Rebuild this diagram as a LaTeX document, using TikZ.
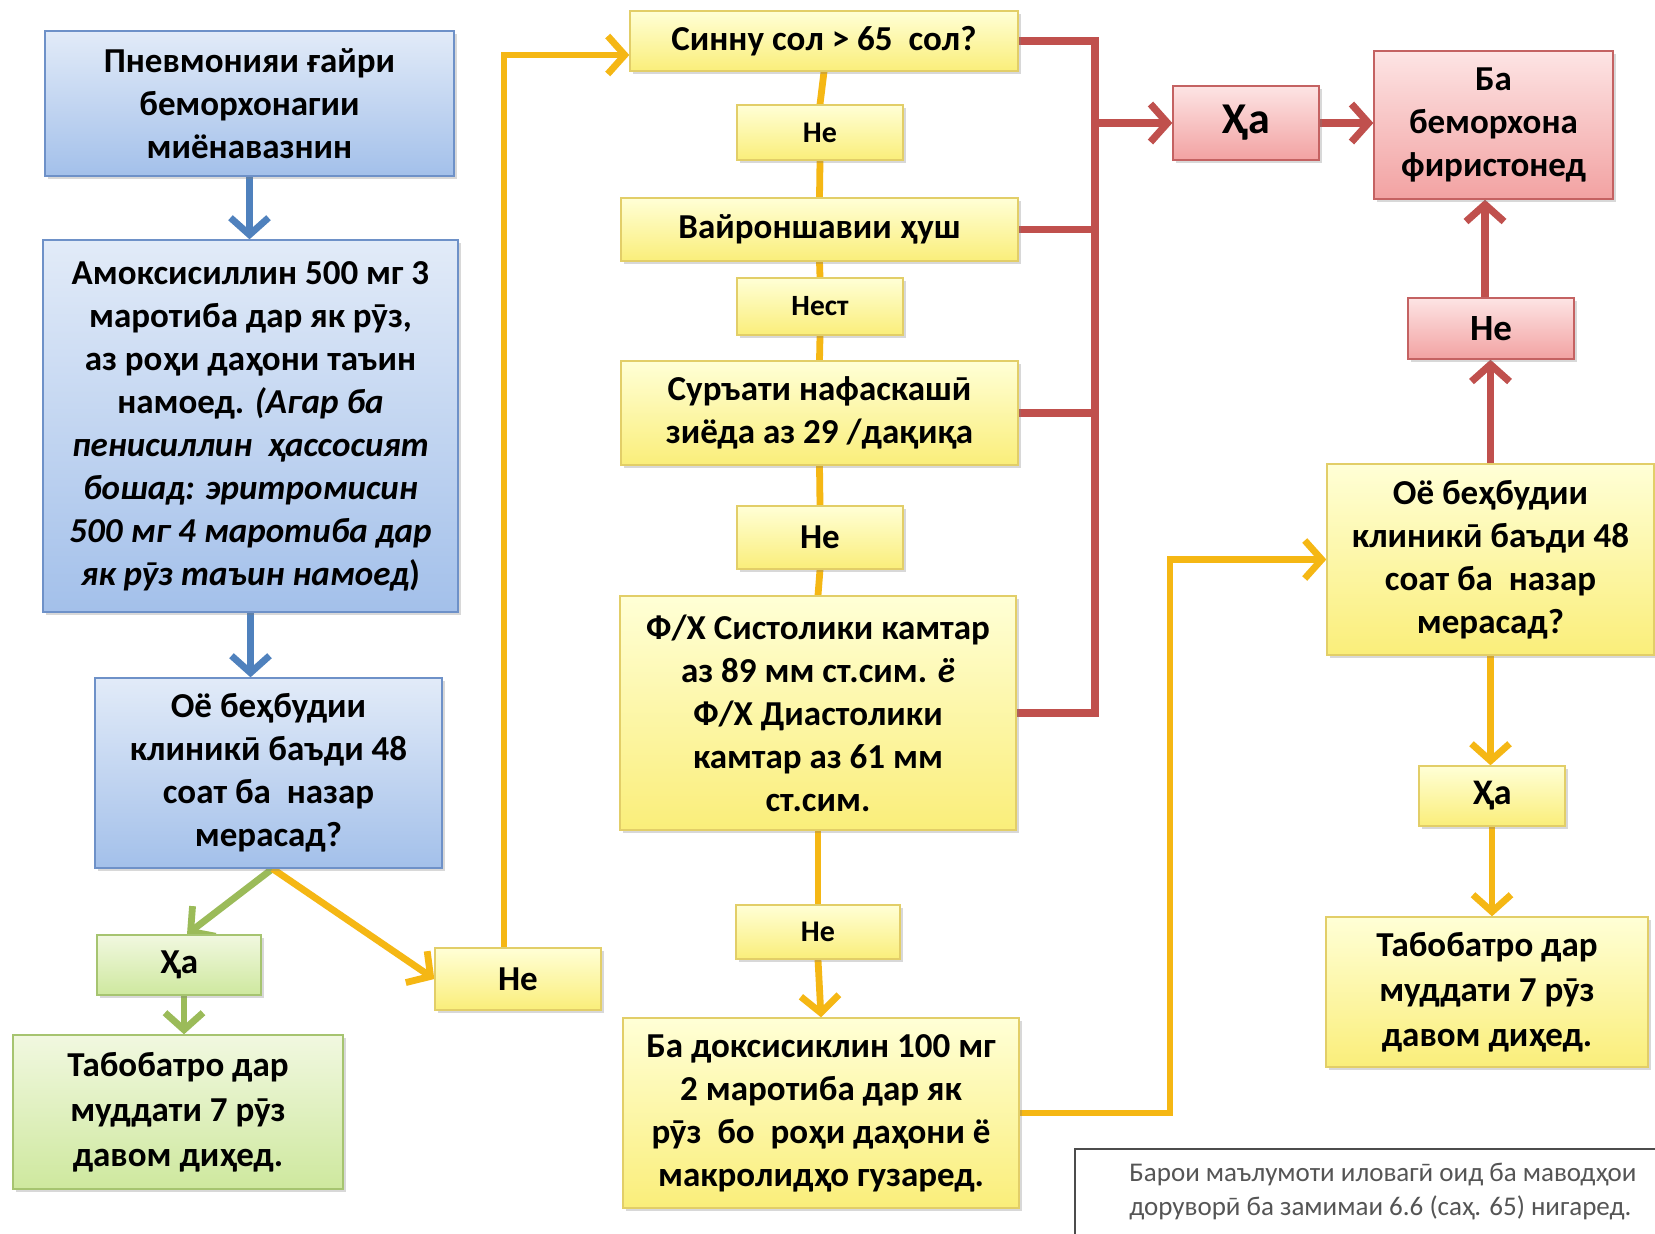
\documentclass[tikz,border=0pt]{standalone}
\usepackage{fontspec}
\setmainfont{Carlito}
\usetikzlibrary{arrows.meta,shadows,backgrounds,calc}

\definecolor{bluefillA}{RGB}{226,235,248}
\definecolor{bluefillB}{RGB}{163,192,234}
\definecolor{blueborder}{RGB}{110,145,200}
\definecolor{yelfillA}{RGB}{255,255,214}
\definecolor{yelfillB}{RGB}{250,238,122}
\definecolor{yelborder}{RGB}{226,206,104}
\definecolor{grnfillA}{RGB}{241,248,224}
\definecolor{grnfillB}{RGB}{206,232,158}
\definecolor{grnborder}{RGB}{166,196,112}
\definecolor{redfillA}{RGB}{253,228,228}
\definecolor{redfillB}{RGB}{242,162,162}
\definecolor{redborder}{RGB}{196,98,98}
\definecolor{bluearrow}{RGB}{79,129,189}
\definecolor{yelarrow}{RGB}{245,183,20}
\definecolor{redarrow}{RGB}{192,80,77}
\definecolor{grnarrow}{RGB}{155,187,89}
\definecolor{notetext}{RGB}{85,85,85}

\newcommand\fsz[2]{\fontsize{#1}{#2}\selectfont}

\tikzset{
  box/.style={rectangle, draw, line width=0.7pt, align=center, inner sep=1pt,
    font=\bfseries\fsz{17.5}{21.5},
    drop shadow={opacity=0.3, shadow xshift=1.5pt, shadow yshift=-1.5pt}},
  bluebox/.style={box, draw=blueborder, top color=bluefillA, bottom color=bluefillB},
  yelbox/.style={box, draw=yelborder, top color=yelfillA, bottom color=yelfillB},
  grnbox/.style={box, draw=grnborder, top color=grnfillA, bottom color=grnfillB},
  redbox/.style={box, draw=redborder, top color=redfillA, bottom color=redfillB},
  conn/.style={line width=3.4pt},
  tipped/.style={-{Straight Barb[length=8.5pt,width=19pt]}},
  bline/.style={conn, draw=bluearrow},
  yline/.style={conn, draw=yelarrow},
  gline/.style={conn, draw=grnarrow},
  rline/.style={conn, draw=redarrow, line width=3.6pt},
}

\begin{document}
\begin{tikzpicture}[x=0.5pt, y=-0.5pt]
\useasboundingbox (0,0) rectangle (1655,1233);
\clip (0,0) rectangle (1655,1233);

% left column
\node[bluebox, minimum width=204.5pt, minimum height=72.5pt] (b1) at (249.5,103.5)
  {Пневмонияи ғайри\\беморхонагии\\миёнавазнин};
\node[bluebox, minimum width=207.5pt, minimum height=186pt] (b2) at (250.5,426)
  {Амоксисиллин 500 мг 3\\маротиба дар як рӯз,\\аз роҳи даҳони таъин\\намоед. \textit{(Агар ба}\\\textit{пенисиллин\ \ ҳассосият}\\\textit{бошад: эритромисин}\\\textit{500 мг 4 маротиба дар}\\\textit{як рӯз таъин намоед})};
\node[bluebox, minimum width=173.5pt, minimum height=95pt] (b3) at (268.5,773)
  {Оё беҳбудии\\клиникӣ баъди 48\\соат ба\ \ назар\\мерасад?};
\node[grnbox, minimum width=82pt, minimum height=30pt] (gha) at (179,965) {Ҳа};
\node[grnbox, minimum width=165pt, minimum height=77pt, font=\bfseries\fsz{17.5}{22.5}] (gtab) at (178,1112)
  {Табобатро дар\\муддати 7 рӯз\\давом диҳед.};
\node[yelbox, minimum width=83pt, minimum height=31pt] (heL) at (518,979) {Не};

% middle column
\node[yelbox, minimum width=194pt, minimum height=30pt] (sin) at (824,41) {Синну сол > 65\ \ сол?};
\node[yelbox, minimum width=83pt, minimum height=27.5pt, font=\bfseries\fsz{15}{18}] (he1) at (820,132.5) {Не};
\node[yelbox, minimum width=198.5pt, minimum height=31.5pt] (vay) at (819.5,229.5) {Вайроншавии ҳуш};
\node[yelbox, minimum width=83pt, minimum height=28.5pt, font=\bfseries\fsz{14.7}{18}] (nest) at (820,306.5) {Нест};
\node[yelbox, minimum width=198.5pt, minimum height=52pt] (sur) at (819.5,413)
  {Суръати нафаскашӣ\\зиёда аз 29 /дақиқа};
\node[yelbox, minimum width=83pt, minimum height=31.5pt] (he3) at (820,537.5) {Не};
\node[yelbox, minimum width=198pt, minimum height=117pt] (fx) at (818,713)
  {Ф/Х Систолики камтар\\аз 89 мм ст.сим. \textit{ё}\\Ф/Х Диастолики\\камтар аз 61 мм\\ст.сим.};
\node[yelbox, minimum width=82pt, minimum height=27pt, font=\bfseries\fsz{15}{18}] (he4) at (818,932) {Не};
\node[yelbox, minimum width=198pt, minimum height=95pt] (dox) at (821,1113)
  {Ба доксисиклин 100 мг\\2 маротиба дар як\\рӯз\ \ бо\ \ роҳи даҳони ё\\макролидҳо гузаред.};

% right column
\node[redbox, minimum width=73pt, minimum height=37pt, font=\bfseries\fsz{22}{26}] (rha) at (1246,123) {Ҳа};
\node[redbox, minimum width=119.5pt, minimum height=74pt] (ba) at (1493.5,125)
  {Ба\\беморхона\\фиристонед};
\node[redbox, minimum width=83pt, minimum height=30.5pt, font=\bfseries\fsz{18.5}{22}] (rhe) at (1491,328.5) {Не};
\node[yelbox, minimum width=163.5pt, minimum height=95.5pt] (oe) at (1490.5,559.5)
  {Оё беҳбудии\\клиникӣ баъди 48\\соат ба\ \ назар\\мерасад?};
\node[yelbox, minimum width=73pt, minimum height=30pt, font=\bfseries\fsz{18}{22}] (yha) at (1492,796) {Ҳа};
\node[yelbox, minimum width=161pt, minimum height=75pt, font=\bfseries\fsz{17.5}{22.5}] (ytab) at (1487,992)
  {Табобатро дар\\муддати 7 рӯз\\давом диҳед.};

% note
\draw[line width=1pt, black!70] (1075,1149) rectangle (1720,1300);
\node[anchor=north west, align=left, inner sep=0pt, text=notetext, font=\fsz{13.5}{17}] (note) at (1129,1163)
  {Барои маълумоти иловагӣ оид ба маводҳои\\доруворӣ ба замимаи 6.6 (саҳ. 65) нигаред.};

% connectors
\coordinate (lk) at (504,55);
\coordinate (dk) at (1170,1113);
\coordinate (bt) at (1095,41);
\begin{scope}[on background layer]
\fill[white] (0,0) rectangle (1655,1233);
\draw[bline, tipped] (b1.south) -- (b1.south |- b2.north);
\draw[bline, tipped] (b2.south) -- (b2.south |- b3.north);
\draw[gline, tipped] ($(b3.south)+(4,0)$) -- ($(gha.north)+(8,0)$);
\draw[yline, tipped] ($(b3.south)+(4,0)$) -- (heL.west);
\draw[gline, tipped] ($(gha.south)+(5,0)$) -- ($(gha.south |- gtab.north)+(5,0)$);
\draw[yline, tipped] (heL.north -| lk) -- (lk) -- (lk -| sin.west);

\draw[yline] (sin.south) -- (he1.north);
\draw[yline] (he1.south) -- (vay.north);
\draw[yline] (vay.south) -- (nest.north);
\draw[yline] (nest.south) -- (sur.north);
\draw[yline] (sur.south) -- (he3.north);
\draw[yline] (he3.south) -- (fx.north);
\draw[yline] (fx.south) -- (he4.north);
\draw[yline, tipped] (he4.south) -- (dox.north);
\draw[yline, tipped] (dox.east) -- (dox.east -| dk) |- (oe.west);
\draw[yline, tipped] (oe.south) -- (oe.south |- yha.north);
\draw[yline, tipped] (yha.south) -- (yha.south |- ytab.north);

\draw[rline] (sin.east) -- (sin.east -| bt) -- (fx.east -| bt) -- (fx.east);
\draw[rline] (vay.east) -- (vay.east -| bt);
\draw[rline] (sur.east) -- (sur.east -| bt);
\draw[rline, tipped] (rha.west -| bt) -- (rha.west);
\draw[rline, tipped] (rha.east) -- (rha.east -| ba.west);
\draw[rline, tipped] (oe.north) -- (oe.north |- rhe.south);
\draw[rline, tipped] ($(rhe.north)+(-6,0)$) -- ($(rhe.north |- ba.south)+(-6,0)$);
\end{scope}
\end{tikzpicture}
\end{document}
